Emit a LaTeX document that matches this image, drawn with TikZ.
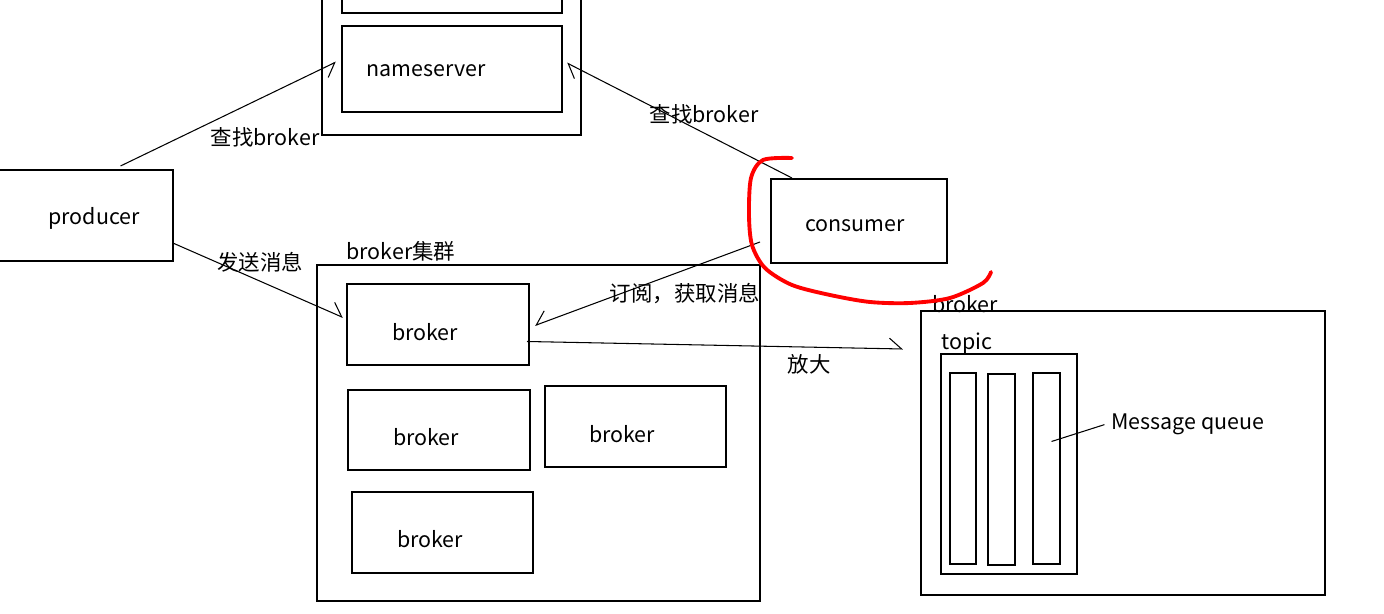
\documentclass[tikz,border=0pt]{standalone}
\usepackage{fontspec}
\setmainfont{Noto Sans CJK SC}
\usetikzlibrary{calc,arrows.meta,fit}

\begin{document}
\begin{tikzpicture}[x=0.02cm,y=-0.02cm,
      box/.style={draw, line width=0.8pt, inner sep=0pt, outer sep=0pt},
      txt/.style={font=\fontsize{12.2}{15}\selectfont, inner sep=1pt, yshift=-1.5pt},
      arr/.style={line width=0.6pt, -{Straight Barb[harpoon,length=7pt,width=12pt]}},
      arrs/.style={line width=0.6pt, -{Straight Barb[harpoon,swap,length=7pt,width=12pt]}}]
    \useasboundingbox (0,0) rectangle (1384,614);
    \clip (0,0) rectangle (1384,614);

    % nameserver
    \node[box, fit={(322,-30) (581,135)}] (nsgroup) {};
    \node[box, fit={(342,-40) (562,13)}]  (nstop) {};
    \node[box, fit={(342,26) (562,112)}]  (ns) {};
    \node[txt] (nslbl) at (426,68) {nameserver};

    % producer / consumer
    \node[box, fit={(-2,170) (173,261)}]  (producer) {};
    \node[txt] (prodlbl) at (94,216) {producer};
    \node[box, fit={(771,179) (947,263)}] (consumer) {};
    \node[txt] (conslbl) at (855,223) {consumer};

    % broker cluster
    \node[box, fit={(317,265) (760,601)}] (cluster) {};
    \node[txt] (clusterlbl) at (401,249) {broker集群};
    \node[box, fit={(347,284) (529,365)}] (b1) {};
    \node[txt] (b1lbl) at (425,329) {broker};
    \node[box, fit={(348,390) (530,470)}] (b2) {};
    \node[txt] (b2lbl) at (426,434) {broker};
    \node[box, fit={(545,386) (726,467)}] (b3) {};
    \node[txt] (b3lbl) at (622,431) {broker};
    \node[box, fit={(352,492) (533,573)}] (b4) {};
    \node[txt] (b4lbl) at (430,536) {broker};

    % broker, enlarged
    \node[box, fit={(921,311) (1325,595)}] (bigbroker) {};
    \node[txt] (bigbrokerlbl) at (965,301) {broker};
    \node[box, fit={(941,354) (1077,574)}] (topic) {};
    \node[txt] (topiclbl) at (967,341) {topic};
    \node[box, fit={(950,373) (976,564)}]   (q1) {};
    \node[box, fit={(988,374) (1015,565)}]  (q2) {};
    \node[box, fit={(1033,373) (1060,564)}] (q3) {};
    \node[txt] (mqlbl) at (1188,422) {Message queue};
    \draw[line width=0.6pt] ($(q3.center)+(5,-27)$) -- ($(mqlbl.west)+(-5,0)$);

    % connectors
    \draw[arrs] ($(producer.north)+(35,-4)$) -- ($(ns.west)+(-6,-7)$);
    \node[txt] (findlbl1) at (265,135) {查找broker};
    \draw[arr] ($(consumer.north)+(-67,-1)$) -- ($(ns.east)+(5,-6)$);
    \node[txt] (findlbl2) at (704,112) {查找broker};
    \draw[arr] ($(producer.east)+(1,28)$) -- ($(b1.west)+(-4,-7)$);
    \node[txt] (sendlbl) at (260,260) {发送消息};
    \draw[arrs] ($(consumer.west)+(-11,21)$) -- ($(b1.east)+(6,1)$);
    \node[txt] (sublbl) at (685,291) {订阅，获取消息};
    \coordinate (zoomtip) at (903,349);
    \draw[arr] ($(b1.east)+(-2,17)$) -- (zoomtip);
    \node[txt] (zoomlbl) at (809,362) {放大};

    % red mark
    \draw[red, line width=2.2pt, line cap=round, line join=round] plot[smooth] coordinates
      {(792,158) (763,160) (751,178) (749,215) (752,245) (765,268) (792,285) (830,295) (870,302) (910,303) (950,298) (983,283) (991,272)};
\end{tikzpicture}
\end{document}
